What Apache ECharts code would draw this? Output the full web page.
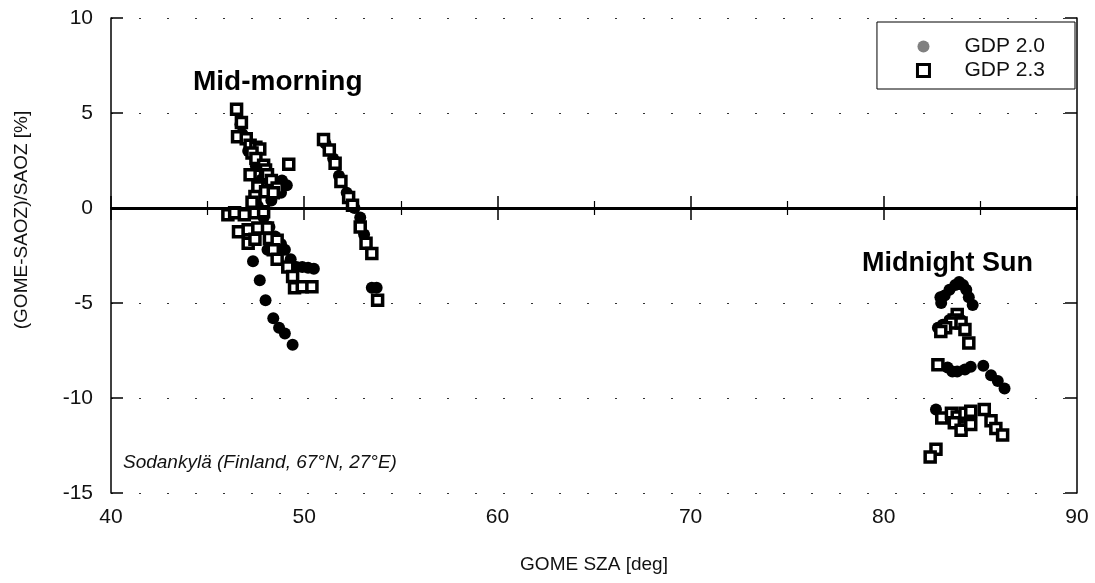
<!DOCTYPE html>
<html>
<head>
<meta charset="utf-8">
<script src="https://cdn.jsdelivr.net/npm/echarts@6/dist/echarts.min.js"></script>
<style>html,body{margin:0;padding:0;background:#fff}#c{width:1095px;height:583px}</style>
</head>
<body>
<div id="c"></div>
<script>
// ---- data ----
const xTicks = [40, 50, 60, 70, 80, 90];
const yTicks = [-15, -10, -5, 0, 5, 10];
const seriesNames = ['GDP 2.0', 'GDP 2.3'];

const gdp20Morning = [
  [46.7,4.4],[46.8,3.9],[47.1,3.0],[47.5,2.2],[47.8,1.5],[48.0,0.9],[48.3,0.4],[48.85,1.45],[49.1,1.2],[48.8,0.8],
  [47.6,0.1],[47.9,-0.5],[48.2,-1.0],[48.5,-1.5],[48.8,-1.9],[48.1,-2.2],[49.0,-2.2],[49.3,-2.7],[49.6,-3.1],[49.9,-3.1],
  [50.2,-3.15],[50.5,-3.2],[47.35,-2.8],[47.7,-3.8],[48.0,-4.85],[48.4,-5.8],[48.7,-6.3],[49.0,-6.6],[49.4,-7.2],
  [51.1,3.4],[51.5,2.6],[51.8,1.7],[52.2,0.8],[52.6,0.0],[52.9,-0.5],[53.1,-1.4],[53.5,-4.2],[53.75,-4.2]
];
const gdp20Midnight = [
  [82.93,-4.7],[82.97,-5.0],[83.15,-4.6],[83.4,-4.3],[83.7,-4.05],[83.9,-3.9],[84.1,-4.05],[84.27,-4.3],[84.4,-4.7],[84.6,-5.1],
  [82.8,-6.3],[83.05,-6.15],[83.4,-5.9],[83.7,-5.75],[84.0,-5.9],
  [83.3,-8.4],[83.55,-8.6],[83.8,-8.6],[84.2,-8.5],[84.5,-8.35],[85.15,-8.3],[85.55,-8.8],[85.9,-9.1],[86.25,-9.5],
  [82.7,-10.6]
];
const gdp23Morning = [
  [46.5,5.2],[46.75,4.5],[46.55,3.75],[47.0,3.65],[47.2,3.3],[47.5,3.2],[47.7,3.1],[47.3,2.9],[47.5,2.6],[47.9,2.25],
  [49.2,2.3],[48.0,2.0],[47.2,1.75],[48.1,1.75],[48.3,1.45],[47.6,1.1],[48.6,1.05],[48.0,0.85],[48.4,0.8],[47.45,0.6],[47.3,0.3],
  [46.05,-0.35],[46.4,-0.25],[46.9,-0.35],[47.45,-0.25],[47.9,-0.2],[46.6,-1.25],[47.1,-1.15],[47.6,-1.05],[48.1,-1.05],
  [47.1,-1.85],[47.45,-1.65],[48.2,-1.6],[48.6,-1.7],[48.4,-2.2],[48.6,-2.7],[49.15,-3.1],[49.4,-3.6],[49.5,-4.2],[49.9,-4.15],[50.4,-4.15],
  [51.0,3.6],[51.3,3.05],[51.6,2.35],[51.9,1.4],[52.3,0.55],[52.5,0.15],[52.9,-1.0],[53.2,-1.85],[53.5,-2.4],[53.8,-4.85]
];
const gdp23Midnight = [
  [83.8,-5.6],[83.65,-5.9],[83.5,-6.05],[84.0,-6.05],[83.2,-6.3],[84.2,-6.4],[82.95,-6.5],[84.4,-7.1],[82.8,-8.25],
  [83.0,-11.05],[83.5,-10.8],[83.8,-11.0],[84.2,-10.8],[84.5,-10.7],[83.65,-11.3],[84.0,-11.7],[84.5,-11.4],
  [85.2,-10.6],[85.55,-11.2],[85.8,-11.6],[86.15,-11.95],[82.7,-12.7],[82.4,-13.1]
];
const annotations = ['Mid-morning', 'Midnight Sun', 'Sodankylä (Finland, 67°N, 27°E)'];
const xTitle = 'GOME SZA [deg]';
const yTitle = '(GOME-SAOZ)/SAOZ [%]';

// ---- chart ----
const FONT = '"Liberation Sans", Arial, Helvetica, sans-serif';
const chart = echarts.init(document.getElementById('c'), null, {renderer: 'canvas'});

const axisLine = {show: true, lineStyle: {color: '#000', width: 1.5}};
const baseX = {
  type: 'value', min: xTicks[0], max: xTicks[xTicks.length - 1], interval: 10,
  axisLine: axisLine,
  axisTick: {show: true, inside: true, length: 12, lineStyle: {color: '#000', width: 1.5}},
  minorTick: {show: true, splitNumber: 2, length: 7, lineStyle: {color: '#000', width: 1.2}},
  splitLine: {show: false}
};
const baseY = {
  type: 'value', min: yTicks[0], max: yTicks[yTicks.length - 1], interval: 5,
  axisLine: axisLine,
  axisTick: {show: true, inside: true, length: 12, lineStyle: {color: '#000', width: 1.5}},
  splitLine: {show: false}
};

chart.setOption({
  animation: false,
  backgroundColor: '#fff',
  grid: {left: 111, right: 18, top: 18, bottom: 90},
  xAxis: [
    Object.assign({}, baseX, {
      position: 'bottom',
      axisLabel: {fontFamily: FONT, fontSize: 21, color: '#111', margin: 14},
      name: xTitle, nameLocation: 'middle', nameGap: 62,
      nameTextStyle: {fontFamily: FONT, fontSize: 19, color: '#111'}
    }),
    Object.assign({}, baseX, {position: 'top', axisLabel: {show: false}})
  ],
  yAxis: [
    Object.assign({}, baseY, {
      position: 'left',
      axisLabel: {fontFamily: FONT, fontSize: 21, color: '#111', margin: 18},
      splitLine: {show: true, lineStyle: {color: '#333', width: 1, type: [2, 26]}}
    }),
    Object.assign({}, baseY, {position: 'right', axisLabel: {show: false}})
  ],
  legend: {
    orient: 'vertical', right: 20, top: 22,
    backgroundColor: '#fff', borderColor: '#000', borderWidth: 1, borderRadius: 0,
    padding: [14, 30, 8, 39], itemGap: 3, itemWidth: 12, itemHeight: 12,
    textStyle: {fontFamily: FONT, fontSize: 21, color: '#111', padding: [0, 0, 0, 30]},
    data: [
      {name: seriesNames[0], icon: 'circle', itemStyle: {color: '#808080', borderWidth: 0}},
      {name: seriesNames[1], icon: 'rect', itemStyle: {color: '#fff', borderColor: '#000', borderWidth: 3}}
    ]
  },
  graphic: [
    {type: 'text', left: 193, top: 68, style: {text: annotations[0], font: 'bold 28px ' + FONT, fill: '#000'}},
    {type: 'text', left: 862, top: 250, style: {text: annotations[1], font: 'bold 27px ' + FONT, fill: '#000'}},
    {type: 'text', left: 123, top: 453, style: {text: annotations[2], font: 'italic 19px ' + FONT, fill: '#111'}},
    {type: 'text', x: 22, y: 220, rotation: Math.PI / 2,
     style: {text: yTitle, font: '19px ' + FONT, fill: '#111', align: 'center', verticalAlign: 'middle'}}
  ],
  series: [
    {
      name: seriesNames[0], type: 'scatter', symbol: 'circle', symbolSize: 12,
      itemStyle: {color: '#000', opacity: 1},
      data: gdp20Morning.concat(gdp20Midnight), z: 3
    },
    {
      name: seriesNames[1], type: 'scatter', symbol: 'rect', symbolSize: 10,
      itemStyle: {color: '#fff', borderColor: '#000', borderWidth: 3.5, opacity: 1},
      data: gdp23Morning.concat(gdp23Midnight), z: 4
    },
    {
      type: 'scatter', data: [], silent: true, z: 5,
      markLine: {silent: true, symbol: 'none', label: {show: false},
        lineStyle: {color: '#000', width: 3, type: 'solid'},
        data: [{yAxis: 0}]}
    }
  ]
});
</script>
</body>
</html>
